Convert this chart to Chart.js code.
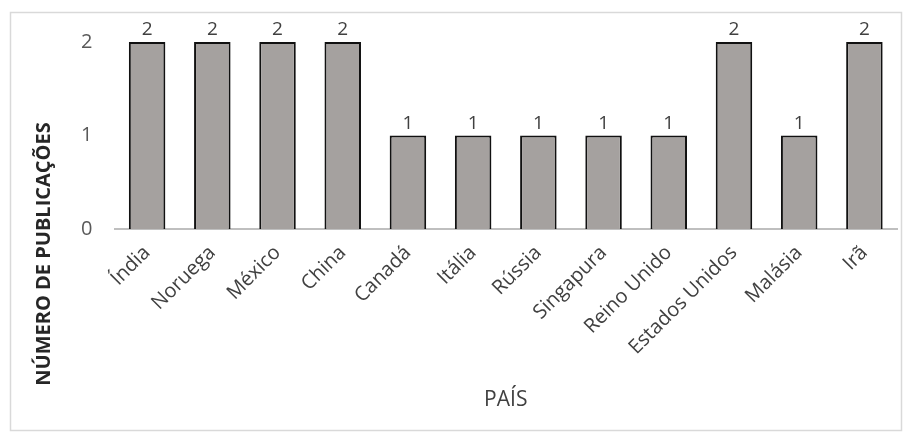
<!DOCTYPE html>
<html>
<head>
<meta charset="utf-8">
<script src="https://cdn.jsdelivr.net/npm/chart.js@4"></script>
<style>
  html, body { margin: 0; padding: 0; background: #fff; }
  #wrap { width: 912px; height: 441px; position: relative; }
</style>
</head>
<body>
<div id="wrap"><canvas id="myChart" width="912" height="441"></canvas></div>
<script>
// dados
const paises = ['Índia', 'Noruega', 'México', 'China', 'Canadá', 'Itália', 'Rússia',
    'Singapura', 'Reino Unido', 'Estados Unidos', 'Malásia', 'Irã'];
const publicacoes = [2, 2, 2, 2, 1, 1, 1, 1, 1, 2, 1, 2];
const yTicks = [0, 1, 2];
const tituloY = 'NÚMERO DE PUBLICAÇÕES';

const fonte = '"Open Sans", "Liberation Sans", sans-serif';

// moldura cinza em volta do grafico + titulo do eixo y (fica mais baixo que o centro do eixo)
const moldura = {
    id: 'moldura',
    beforeDraw(chart) {
        const ctx = chart.ctx;
        ctx.save();
        ctx.fillStyle = '#fff';
        ctx.fillRect(0, 0, chart.width, chart.height);
        ctx.strokeStyle = '#d9d9d9';
        ctx.lineWidth = 1.5;
        ctx.strokeRect(10.5, 12.5, 891, 418);
        ctx.restore();
    },
    afterDraw(chart) {
        const ctx = chart.ctx;
        ctx.save();
        ctx.translate(44, 254);
        ctx.rotate(-Math.PI / 2);
        ctx.fillStyle = '#262626';
        ctx.font = 'bold 20px ' + fonte;
        ctx.textAlign = 'center';
        ctx.textBaseline = 'middle';
        ctx.fillText(tituloY, 0, 0);
        ctx.restore();
    }
};

// rotulos de valor acima das barras
const rotulos = {
    id: 'rotulos',
    afterDatasetsDraw(chart) {
        const ctx = chart.ctx;
        const meta = chart.getDatasetMeta(0);
        ctx.save();
        ctx.fillStyle = '#404040';
        ctx.font = '19px ' + fonte;
        ctx.textAlign = 'center';
        ctx.textBaseline = 'middle';
        meta.data.forEach((bar, i) => {
            ctx.fillText(String(publicacoes[i]), bar.x, bar.y - 12);
        });
        ctx.restore();
    }
};

const data = {
    labels: paises,
    datasets: [{
        data: publicacoes,
        backgroundColor: '#a5a19f',
        borderColor: '#111',
        borderWidth: 2,
        borderSkipped: 'bottom',
        categoryPercentage: 1,
        barPercentage: 0.56
    }]
};

const config = {
    type: 'bar',
    data: data,
    plugins: [moldura, rotulos],
    options: {
        responsive: false,
        animation: false,
        layout: { padding: { left: 25, right: 15, top: 42, bottom: 20 } },
        plugins: { legend: { display: false }, tooltip: { enabled: false } },
        scales: {
            x: {
                grid: { display: false, drawTicks: false },
                border: { display: true, color: '#bfbfbf', width: 2 },
                ticks: {
                    color: '#404040',
                    font: { family: fonte, size: 20 },
                    minRotation: 45,
                    maxRotation: 45,
                    padding: 12,
                    autoSkip: false
                },
                title: {
                    display: true,
                    text: 'PAÍS',
                    color: '#404040',
                    font: { family: fonte, size: 21 },
                    padding: { top: 0, bottom: 8 }
                },
                afterFit(scale) { scale.height = 192; }
            },
            y: {
                min: 0,
                max: 2,
                grid: { display: false, drawTicks: false },
                border: { display: false },
                afterBuildTicks(scale) { scale.ticks = yTicks.map(v => ({ value: v })); },
                ticks: {
                    color: '#595959',
                    font: { family: fonte, size: 20 },
                    padding: 22
                },
                title: { display: false },
                afterFit(scale) { scale.width = 89.5; }
            }
        }
    }
};

const myChart = new Chart(document.getElementById('myChart'), config);
</script>
</body>
</html>
